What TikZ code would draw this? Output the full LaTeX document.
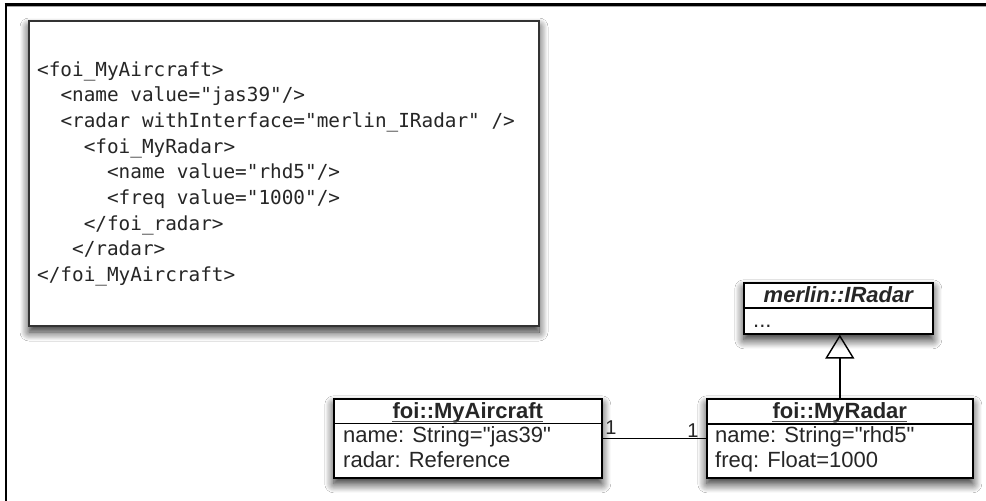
\documentclass[tikz,border=0pt]{standalone}
\usepackage{fontspec}
\setmainfont{Liberation Sans}[Ligatures=TeXOff]
\newfontfamily\codefont{DejaVu Sans Mono}[Ligatures=TeXOff]
\usetikzlibrary{arrows.meta,shadows.blur}

\begin{document}
\begin{tikzpicture}[x=1pt,y=-1pt,
  softshadow/.style={blur shadow={shadow xshift=0pt, shadow yshift=-6pt,
      shadow blur radius=9pt, shadow blur steps=12, shadow opacity=85}},
  codebox/.style={draw=black!80, line width=2pt, fill=white, softshadow},
  codeline/.style={font=\codefont\fontsize{19.35}{24}\selectfont,
      text=black!85, anchor=base west, inner sep=0pt},
  umlbox/.style={draw=black, line width=1.6pt, fill=white, softshadow,
      inner sep=0pt, anchor=north west},
  umlsep/.style={line width=1.6pt},
  umltitle/.style={font=\bfseries\fontsize{22}{26}\selectfont,
      text=black!85, anchor=base, inner sep=0pt},
  umlattr/.style={font=\fontsize{22}{26}\selectfont, text=black!85,
      anchor=base west, inner sep=0pt},
  mult/.style={font=\fontsize{20}{24}\selectfont, text=black!85, inner sep=0pt},
  titleline/.style={line width=1pt, black!70},
  link/.style={line width=1.4pt},
]
\useasboundingbox (0,0) rectangle (986,501);
\fill[white] (0,0) rectangle (986,501);

% window frame (top and left edges)
\draw[line width=1pt, black!35] (6,6) -- (986,6);
\draw[line width=2.6pt, black] (4.5,4.3) -- (986,4.3);
\draw[line width=2pt, black] (6,3) -- (6,501);

% XML listing
\node[codebox, minimum width=510pt, minimum height=305pt, anchor=north west,
      inner sep=0pt] (code) at (28,20) {};
\def\cw{11.65}
\node[codeline] (c1) at (37,76) {<foi\_MyAircraft>};
\node[codeline] (c2) at (37+2*\cw,101.7) {<name value="jas39"/>};
\node[codeline] (c3) at (37+2*\cw,127.4) {<radar withInterface="merlin\_IRadar" />};
\node[codeline] (c4) at (37+4*\cw,153.1) {<foi\_MyRadar>};
\node[codeline] (c5) at (37+6*\cw,178.8) {<name value="rhd5"/>};
\node[codeline] (c6) at (37+6*\cw,204.5) {<freq value="1000"/>};
\node[codeline] (c7) at (37+4*\cw,230.2) {</foi\_radar>};
\node[codeline] (c8) at (37+3*\cw,255.9) {</radar>};
\node[codeline] (c9) at (37,281.6) {</foi\_MyAircraft>};

% interface merlin::IRadar
\node[umlbox, minimum width=189pt, minimum height=51pt] (iradar) at (743,282) {};
\draw[umlsep] (iradar.west |- 0,308) -- (iradar.east |- 0,308);
\node[umltitle, font=\bfseries\itshape\fontsize{22}{26}\selectfont]
  (iradartitle) at (iradar.north |- 0,302) {merlin::IRadar};
\node[umlattr] (iradarops) at (753,327) {...};

% object foi::MyAircraft
\node[umlbox, minimum width=268pt, minimum height=79pt] (aircraft) at (333,398) {};
\draw[umlsep] (aircraft.west |- 0,423.5) -- (aircraft.east |- 0,423.5);
\node[umltitle] (aircrafttitle) at (aircraft.north |- 0,418) {foi::MyAircraft};
\draw[titleline] ([yshift=-3pt]aircrafttitle.base west) -- ([yshift=-3pt]aircrafttitle.base east);
\node[umlattr] (aircraftname) at (343,442) {name: String="jas39"};
\node[umlattr] (aircraftradar) at (343,467) {radar: Reference};

% object foi::MyRadar
\node[umlbox, minimum width=266pt, minimum height=79pt] (radar) at (706,398) {};
\draw[umlsep] (radar.west |- 0,424) -- (radar.east |- 0,424);
\node[umltitle] (radartitle) at (radar.north |- 0,418) {foi::MyRadar};
\draw[titleline] ([yshift=-3pt]radartitle.base west) -- ([yshift=-3pt]radartitle.base east);
\node[umlattr] (radarname) at (715,442) {name: String="rhd5"};
\node[umlattr] (radarfreq) at (715,467) {freq: Float=1000};

% realization of the interface
\draw[link, -{Triangle[open, length=24pt, width=29pt, line width=1.4pt]}]
  (radar.north) -- (iradar.south -| radar.north);

% association with multiplicities
\draw[link] (aircraft.east) -- (radar.west);
\node[mult] (multa) at (611,428) {1};
\node[mult] (multb) at (693,431) {1};
\end{tikzpicture}
\end{document}
